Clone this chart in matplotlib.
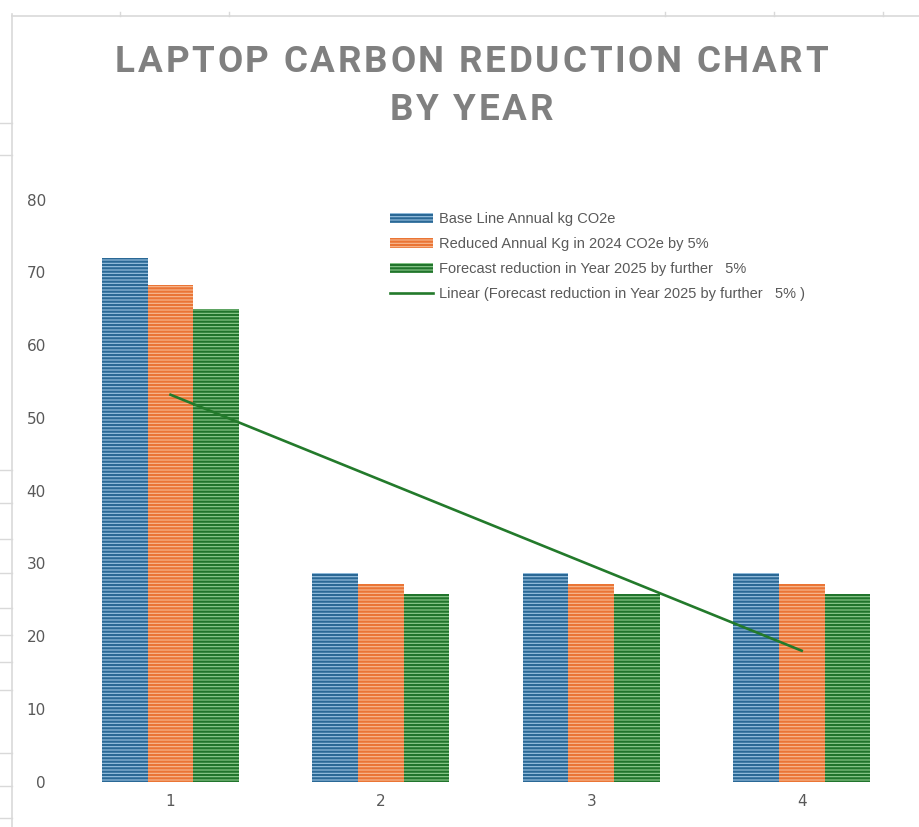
import matplotlib
matplotlib.use('Agg')
import matplotlib.pyplot as plt
from matplotlib.lines import Line2D
from matplotlib.font_manager import FontProperties
import numpy as np

# chart values
years = [1, 2, 3, 4]
base_line = [72.0, 28.6, 28.6, 28.6]
reduced_2024 = [68.3, 27.2, 27.2, 27.2]
forecast_2025 = [64.9, 25.8, 25.8, 25.8]

labels = ['Base Line Annual kg CO2e',
          'Reduced Annual Kg in 2024 CO2e by 5%',
          'Forecast reduction in Year 2025 by further   5%']
trend_label = 'Linear (Forecast reduction in Year 2025 by further   5% )'
title_lines = ['LAPTOP CARBON REDUCTION CHART', 'BY YEAR']

# (light face, dark stripe) per series
colours = [('#9cc4e2', '#2a6895'),
           ('#f8bb94', '#ea7535'),
           ('#90cc90', '#21742c')]

TEXT_GREY = '#595959'

plt.rcParams['font.family'] = ['Liberation Sans', 'DejaVu Sans']
plt.rcParams['hatch.linewidth'] = 1.6

W, H = 919, 827
fig = plt.figure(figsize=(W / 100, H / 100), dpi=100)
ax = fig.add_axes([0.0711, 0.055, 0.9157, 0.7037])

x = np.array(years, dtype=float)
width = 0.217
series = [base_line, reduced_2024, forecast_2025]
for i, (vals, (face, stripe)) in enumerate(zip(series, colours)):
    ax.bar(x + (i - 1) * width, vals, width, facecolor=face, edgecolor=stripe,
           hatch='-----', linewidth=0, label=labels[i])

# linear trend of the forecast series
slope, icpt = np.polyfit(x, forecast_2025, 1)
xs = np.array([x[0], x[-1]])
ax.plot(xs, slope * xs + icpt, color='#237a2b', lw=1.9, label=trend_label)

ax.set_xlim(0.5, 4.5)
ax.set_ylim(0, 80)
ax.set_xticks(years)
ax.set_yticks(range(0, 81, 10))
ax.tick_params(axis='both', length=0, labelsize=11, labelcolor=TEXT_GREY)
for lab in ax.get_xticklabels() + ax.get_yticklabels():
    lab.set_family('DejaVu Sans')
ax.tick_params(axis='y', pad=14)
ax.tick_params(axis='x', pad=9)
for s in ax.spines.values():
    s.set_visible(False)

handles, lbls = ax.get_legend_handles_labels()
order = [1, 2, 3, 0]   # trend line goes last, as in Excel
ax.legend([handles[k] for k in order], [lbls[k] for k in order],
          loc='upper left', bbox_to_anchor=(0.424, 0.744),
          bbox_transform=fig.transFigure, frameon=False, fontsize=10.5,
          labelcolor=TEXT_GREY, handlelength=3.0, handleheight=0.7,
          handletextpad=0.4, labelspacing=0.76, borderpad=0, borderaxespad=0)

# letter-spaced title, placed one character at a time
renderer = fig.canvas.get_renderer()
tfont = FontProperties(family='Roboto', weight='bold', size=26.5)

def char_w(c):
    if c == ' ':
        a = renderer.get_text_width_height_descent('A A', tfont, ismath=False)[0]
        b = renderer.get_text_width_height_descent('AA', tfont, ismath=False)[0]
        return a - b
    return renderer.get_text_width_height_descent(c, tfont, ismath=False)[0]

first = title_lines[0]
natural = sum(char_w(c) for c in first)
track = (713 - natural) / (len(first) - 1)
for line, base_px in zip(title_lines, [72, 120]):
    widths = [char_w(c) for c in line]
    total = sum(widths) + track * (len(line) - 1)
    cx = 471.5 - total / 2
    for c, w in zip(line, widths):
        if c != ' ':
            fig.text(cx / W, 1 - base_px / H, c, fontproperties=tfont,
                     color='#808080', ha='left', va='baseline')
        cx += w + track

# spreadsheet cell borders showing round the chart
grid_c = '#d9d9d9'
fig.add_artist(Line2D([12 / W, 12 / W], [0, 1 - 14 / H], color=grid_c,
                      lw=1.2, transform=fig.transFigure))
fig.add_artist(Line2D([12 / W, 1], [1 - 16 / H] * 2, color=grid_c,
                      lw=1.2, transform=fig.transFigure))
for px in [120, 229, 665, 774, 883]:
    fig.add_artist(Line2D([px / W] * 2, [1 - 12 / H, 1 - 16 / H],
                          color=grid_c, lw=1, transform=fig.transFigure))
for py in [123, 155, 470, 503, 539, 573, 608, 635, 662, 690, 753, 786, 818]:
    fig.add_artist(Line2D([0, 12 / W], [1 - py / H] * 2,
                          color=grid_c, lw=1, transform=fig.transFigure))

fig.savefig('out.png', dpi=100)
